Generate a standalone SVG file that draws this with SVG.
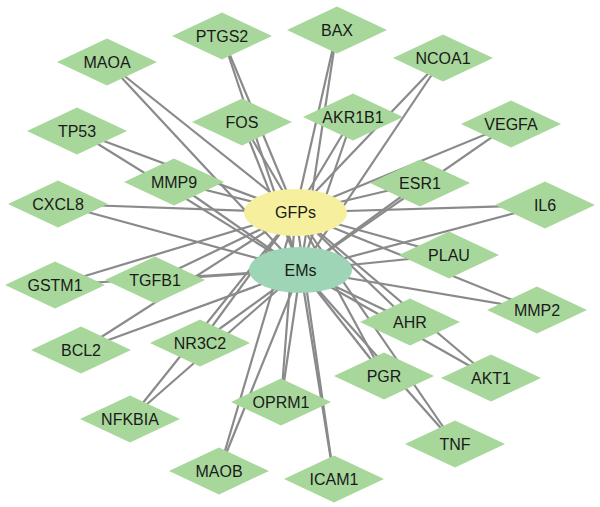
<svg xmlns="http://www.w3.org/2000/svg" xmlns:xlink="http://www.w3.org/1999/xlink" width="600" height="507" viewBox="0 0 600 507">
<style>
.e line{stroke:#8a8a8a;stroke-width:2.2}
.g use{fill:#a7d79a}
text{font-family:"Liberation Sans",Arial,sans-serif;font-size:16px;fill:#1a1a1a;text-anchor:middle;dominant-baseline:central}
</style>
<defs>
<polygon id="d" points="-50,0 0,-23.5 50,0 0,23.5"/>
</defs>
<rect width="600" height="507" fill="#ffffff"/>
<g class="e" id="connectors">
<line x1="107" y1="62" x2="295.5" y2="212.5"/><line x1="107" y1="62" x2="300.5" y2="270"/>
<line x1="222" y1="36" x2="295.5" y2="212.5"/><line x1="222" y1="36" x2="300.5" y2="270"/>
<line x1="337" y1="30" x2="295.5" y2="212.5"/><line x1="337" y1="30" x2="300.5" y2="270"/>
<line x1="443" y1="58" x2="295.5" y2="212.5"/><line x1="443" y1="58" x2="300.5" y2="270"/>
<line x1="77" y1="131" x2="295.5" y2="212.5"/><line x1="77" y1="131" x2="300.5" y2="270"/>
<line x1="242" y1="122" x2="295.5" y2="212.5"/><line x1="242" y1="122" x2="300.5" y2="270"/>
<line x1="353" y1="117" x2="295.5" y2="212.5"/><line x1="353" y1="117" x2="300.5" y2="270"/>
<line x1="511" y1="124" x2="295.5" y2="212.5"/><line x1="511" y1="124" x2="300.5" y2="270"/>
<line x1="174" y1="182" x2="295.5" y2="212.5"/><line x1="174" y1="182" x2="300.5" y2="270"/>
<line x1="420" y1="183" x2="295.5" y2="212.5"/><line x1="420" y1="183" x2="300.5" y2="270"/>
<line x1="58" y1="204" x2="295.5" y2="212.5"/><line x1="58" y1="204" x2="300.5" y2="270"/>
<line x1="545" y1="205" x2="295.5" y2="212.5"/><line x1="545" y1="205" x2="300.5" y2="270"/>
<line x1="55" y1="285" x2="295.5" y2="212.5"/><line x1="55" y1="285" x2="300.5" y2="270"/>
<line x1="155" y1="280" x2="295.5" y2="212.5"/><line x1="155" y1="280" x2="300.5" y2="270"/>
<line x1="449" y1="255" x2="295.5" y2="212.5"/><line x1="449" y1="255" x2="300.5" y2="270"/>
<line x1="537" y1="310" x2="295.5" y2="212.5"/><line x1="537" y1="310" x2="300.5" y2="270"/>
<line x1="81" y1="350" x2="295.5" y2="212.5"/><line x1="81" y1="350" x2="300.5" y2="270"/>
<line x1="200" y1="343" x2="295.5" y2="212.5"/><line x1="200" y1="343" x2="300.5" y2="270"/>
<line x1="410" y1="322" x2="295.5" y2="212.5"/><line x1="410" y1="322" x2="300.5" y2="270"/>
<line x1="384" y1="376" x2="295.5" y2="212.5"/><line x1="384" y1="376" x2="300.5" y2="270"/>
<line x1="491" y1="378" x2="295.5" y2="212.5"/><line x1="491" y1="378" x2="300.5" y2="270"/>
<line x1="130" y1="419" x2="295.5" y2="212.5"/><line x1="130" y1="419" x2="300.5" y2="270"/>
<line x1="281" y1="402" x2="295.5" y2="212.5"/><line x1="281" y1="402" x2="300.5" y2="270"/>
<line x1="455" y1="444" x2="295.5" y2="212.5"/><line x1="455" y1="444" x2="300.5" y2="270"/>
<line x1="219" y1="471" x2="295.5" y2="212.5"/><line x1="219" y1="471" x2="300.5" y2="270"/>
<line x1="334" y1="479" x2="295.5" y2="212.5"/><line x1="334" y1="479" x2="300.5" y2="270"/>
</g>
<g class="g">
<g id="MAOA"><use href="#d" x="107" y="62"/><text x="107" y="62">MAOA</text></g>
<g id="PTGS2"><use href="#d" x="222" y="36"/><text x="222" y="36">PTGS2</text></g>
<g id="BAX"><use href="#d" x="337" y="30"/><text x="337" y="30">BAX</text></g>
<g id="NCOA1"><use href="#d" x="443" y="58"/><text x="443" y="58">NCOA1</text></g>
<g id="TP53"><use href="#d" x="77" y="131"/><text x="77" y="131">TP53</text></g>
<g id="FOS"><use href="#d" x="242" y="122"/><text x="242" y="122">FOS</text></g>
<g id="AKR1B1"><use href="#d" x="353" y="117"/><text x="353" y="117">AKR1B1</text></g>
<g id="VEGFA"><use href="#d" x="511" y="124"/><text x="511" y="124">VEGFA</text></g>
<g id="MMP9"><use href="#d" x="174" y="182"/><text x="174" y="182">MMP9</text></g>
<g id="ESR1"><use href="#d" x="420" y="183"/><text x="420" y="183">ESR1</text></g>
<g id="CXCL8"><use href="#d" x="58" y="204"/><text x="58" y="204">CXCL8</text></g>
<g id="IL6"><use href="#d" x="545" y="205"/><text x="545" y="205">IL6</text></g>
<g id="GSTM1"><use href="#d" x="55" y="285"/><text x="55" y="285">GSTM1</text></g>
<g id="TGFB1"><use href="#d" x="155" y="280"/><text x="155" y="280">TGFB1</text></g>
<g id="PLAU"><use href="#d" x="449" y="255"/><text x="449" y="255">PLAU</text></g>
<g id="MMP2"><use href="#d" x="537" y="310"/><text x="537" y="310">MMP2</text></g>
<g id="BCL2"><use href="#d" x="81" y="350"/><text x="81" y="350">BCL2</text></g>
<g id="NR3C2"><use href="#d" x="200" y="343"/><text x="200" y="343">NR3C2</text></g>
<g id="AHR"><use href="#d" x="410" y="322"/><text x="410" y="322">AHR</text></g>
<g id="PGR"><use href="#d" x="384" y="376"/><text x="384" y="376">PGR</text></g>
<g id="AKT1"><use href="#d" x="491" y="378"/><text x="491" y="378">AKT1</text></g>
<g id="NFKBIA"><use href="#d" x="130" y="419"/><text x="130" y="419">NFKBIA</text></g>
<g id="OPRM1"><use href="#d" x="281" y="402"/><text x="281" y="402">OPRM1</text></g>
<g id="TNF"><use href="#d" x="455" y="444"/><text x="455" y="444">TNF</text></g>
<g id="MAOB"><use href="#d" x="219" y="471"/><text x="219" y="471">MAOB</text></g>
<g id="ICAM1"><use href="#d" x="334" y="479"/><text x="334" y="479">ICAM1</text></g>
</g>
<g id="GFPs"><ellipse cx="295.5" cy="212.5" rx="51.5" ry="23.5" fill="#f6f09e"/><text x="295.5" y="212.5">GFPs</text></g>
<g id="EMs"><ellipse cx="300.5" cy="270" rx="51.5" ry="23" fill="#9dd5b6"/><text x="300.5" y="270">EMs</text></g>
</svg>
